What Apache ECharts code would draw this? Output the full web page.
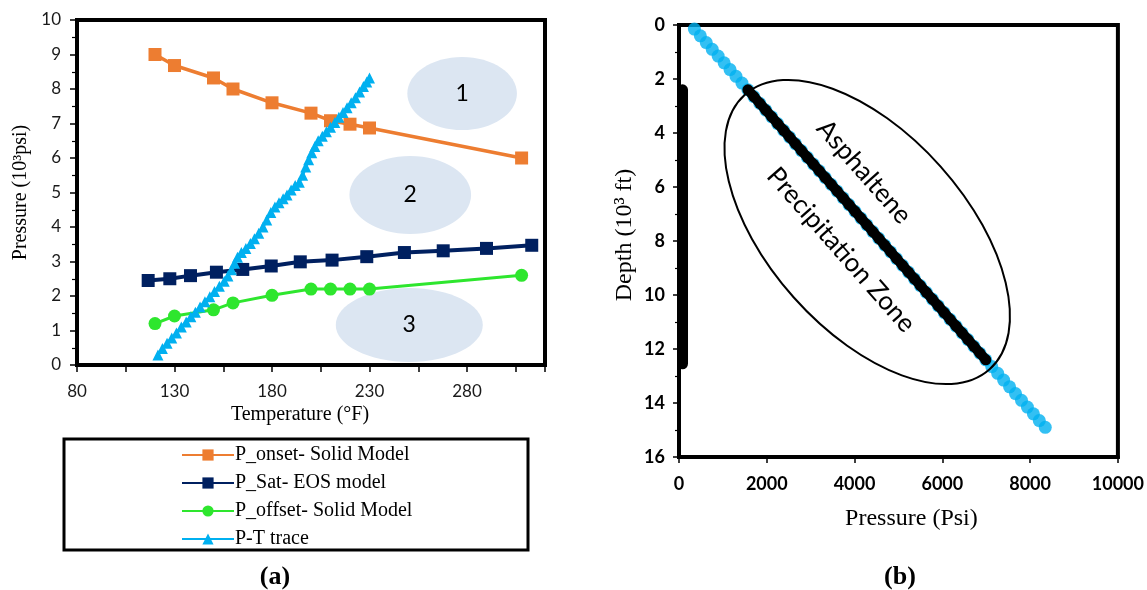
<!DOCTYPE html>
<html>
<head>
<meta charset="utf-8">
<script src="https://cdn.jsdelivr.net/npm/echarts@6/dist/echarts.min.js"></script>
<style>
  html, body { margin: 0; padding: 0; background: #fff; }
  #main { width: 1147px; height: 590px; }
</style>
</head>
<body>
<div id="main"></div>
<script>
// ---- (a) Pressure vs temperature envelope (pressure in 10^3 psi, temperature in °F) ----
const onsetT = [120, 130, 150, 160, 180, 200, 210, 220, 230, 308];
const onsetP = [9.0, 8.68, 8.32, 8.0, 7.6, 7.3, 7.08, 6.98, 6.87, 6.0];

const satT = [116.5, 127.6, 138.2, 151.5, 165, 179.6, 194.5, 210.8, 228.6, 247.9, 267.8, 290, 313.2];
const satP = [2.45, 2.5, 2.59, 2.69, 2.77, 2.87, 2.99, 3.04, 3.14, 3.26, 3.31, 3.38, 3.47];

const offsetT = [120, 130, 150, 160, 180, 200, 210, 220, 230, 308];
const offsetP = [1.2, 1.42, 1.6, 1.8, 2.02, 2.2, 2.2, 2.2, 2.2, 2.6];

const traceT = [121.5, 123.8, 126.2, 128.6, 131.0, 133.5, 136.0, 138.4, 140.7, 143.1,
  145.6, 148.1, 150.5, 153.0, 155.5, 157.4, 159.2, 160.8, 162.3, 164.3,
  166.6, 168.9, 171.0, 173.2, 175.4, 177.3, 179.4, 181.5, 183.6, 185.7,
  187.7, 189.8, 191.9, 194.0, 195.7, 197.3, 198.8, 200.4, 202.0, 203.7,
  205.8, 207.9, 210.0, 212.2, 214.3, 216.4, 218.5, 220.6, 222.8, 224.9,
  226.9, 228.6, 230.0];
const traceP = [0.29, 0.48, 0.63, 0.78, 0.93, 1.10, 1.25, 1.40, 1.53, 1.68,
  1.83, 1.98, 2.13, 2.28, 2.43, 2.58, 2.76, 2.95, 3.12, 3.26,
  3.38, 3.52, 3.66, 3.82, 4.00, 4.20, 4.42, 4.58, 4.70, 4.82,
  4.93, 5.07, 5.20, 5.30, 5.50, 5.74, 5.95, 6.15, 6.33, 6.50,
  6.63, 6.76, 6.89, 7.03, 7.18, 7.32, 7.46, 7.60, 7.75, 7.91,
  8.07, 8.20, 8.32];

const tempTickLabels = [80, 130, 180, 230, 280];
const regionNames = ['1', '2', '3'];
const seriesNames = ['P_onset- Solid Model', 'P_Sat- EOS model', 'P_offset- Solid Model', 'P-T trace'];

// ---- (b) Pressure vs depth profile (depth in 10^3 ft, pressure in psi) ----
const profileDepth = [0.15, 0.40, 0.65, 0.90, 1.15, 1.40, 1.65, 1.90, 2.15, 2.40,
  2.65, 2.90, 3.15, 3.40, 3.65, 3.90, 4.15, 4.40, 4.65, 4.90,
  5.15, 5.40, 5.65, 5.90, 6.15, 6.40, 6.65, 6.90, 7.15, 7.40,
  7.65, 7.90, 8.15, 8.40, 8.65, 8.90, 9.15, 9.40, 9.65, 9.90,
  10.15, 10.40, 10.65, 10.90, 11.15, 11.40, 11.65, 11.90, 12.15, 12.40,
  12.65, 12.90, 13.15, 13.40, 13.65, 13.90, 14.15, 14.40, 14.65, 14.90];
const profilePressure = [350, 486, 621, 757, 892, 1028, 1163, 1299, 1434, 1570,
  1705, 1841, 1976, 2112, 2247, 2383, 2518, 2654, 2789, 2925,
  3060, 3196, 3331, 3467, 3602, 3738, 3873, 4009, 4144, 4280,
  4415, 4551, 4686, 4822, 4957, 5093, 5228, 5364, 5499, 5635,
  5770, 5906, 6041, 6177, 6312, 6448, 6583, 6719, 6854, 6990,
  7125, 7261, 7396, 7532, 7667, 7803, 7938, 8074, 8209, 8345];

// depth interval of the precipitation zone and the marker bar on the depth axis
const zoneDepth = [2.4, 12.5];
const zoneBarDepth = [2.4, 12.55];
const zoneBarPressure = [80, 80];

// ---- styling ----
const ORANGE = '#ED7D31', NAVY = '#002060', GREEN = '#2EE62E', SKY = '#00B0F0';
const SANS = 'Lato, "Open Sans", sans-serif';
const SERIF = '"Liberation Serif", "DejaVu Serif", serif';

const zip = (a, b) => a.map((v, i) => [v, b[i]]);

const zoneProfile = profileDepth
  .map((d, i) => [profilePressure[i], d])
  .filter(p => p[1] >= zoneDepth[0] && p[1] <= zoneDepth[1]);

const axisLineStyle = { color: '#000', width: 4 };

const option = {
  animation: false,
  backgroundColor: '#fff',
  textStyle: { fontFamily: SANS },
  grid: [
    { left: 77, top: 20, width: 468, height: 345, show: true, borderColor: '#000', borderWidth: 4 },
    { left: 679, top: 25, width: 440, height: 432, show: true, borderColor: '#000', borderWidth: 4 }
  ],
  xAxis: [
    {
      gridIndex: 0, type: 'value', min: 80, max: 320, interval: 25,
      splitLine: { show: false },
      axisLine: { onZero: false, lineStyle: axisLineStyle },
      axisTick: { length: 7, lineStyle: { color: '#000', width: 1.5 } },
      axisLabel: {
        formatter: v => (tempTickLabels.indexOf(v) >= 0 ? String(v) : ''),
        fontSize: 17, color: '#1a1a1a', margin: 18
      },
      name: 'Temperature (°F)', nameLocation: 'middle', nameGap: 37,
      nameTextStyle: { fontFamily: SERIF, fontSize: 20, color: '#000', padding: [0, 22, 0, 0] }
    },
    {
      gridIndex: 1, type: 'value', min: 0, max: 10000, interval: 2000,
      splitLine: { show: false },
      axisLine: { onZero: false, lineStyle: axisLineStyle },
      axisTick: { length: 6, lineStyle: { color: '#000', width: 1.5 } },
      axisLabel: { formatter: v => String(v), fontSize: 18, fontWeight: 'bold', color: '#000', margin: 18 },
      name: 'Pressure (Psi)', nameLocation: 'middle', nameGap: 50,
      nameTextStyle: { fontFamily: SERIF, fontSize: 24, color: '#000', padding: [0, 0, 0, 26] }
    }
  ],
  yAxis: [
    {
      gridIndex: 0, type: 'value', min: 0, max: 10, interval: 1,
      splitLine: { show: false },
      axisLine: { onZero: false, lineStyle: axisLineStyle },
      axisTick: { length: 7, lineStyle: { color: '#000', width: 1.5 } },
      minorTick: { show: true, splitNumber: 2, length: 5, lineStyle: { color: '#000', width: 1.2 } },
      minorSplitLine: { show: false },
      axisLabel: { fontSize: 17, color: '#1a1a1a', margin: 16 },
      name: 'Pressure (10³psi)', nameLocation: 'middle', nameGap: 46,
      nameTextStyle: { fontFamily: SERIF, fontSize: 20, color: '#000' }
    },
    {
      gridIndex: 1, type: 'value', min: 0, max: 16, interval: 2, inverse: true,
      splitLine: { show: false },
      axisLine: { onZero: false, lineStyle: axisLineStyle },
      axisTick: { length: 6, lineStyle: { color: '#000', width: 1.5 } },
      minorTick: { show: true, splitNumber: 2, length: 4, lineStyle: { color: '#000', width: 1.2 } },
      minorSplitLine: { show: false },
      axisLabel: { fontSize: 18, fontWeight: 'bold', color: '#000', margin: 14 },
      name: 'Depth (10³ ft)', nameLocation: 'middle', nameGap: 42,
      nameTextStyle: { fontFamily: SERIF, fontSize: 24, color: '#000', padding: [0, 0, 0, 12] }
    }
  ],
  legend: {
    data: seriesNames,
    orient: 'vertical', left: 176, top: 440,
    itemWidth: 52, itemHeight: 14, itemGap: 8,
    textStyle: { fontFamily: SERIF, fontSize: 20, color: '#000', lineHeight: 19, padding: [0, 0, 0, -4] }
  },
  series: [
    {
      name: seriesNames[0], type: 'line', xAxisIndex: 0, yAxisIndex: 0,
      data: zip(onsetT, onsetP), symbol: 'rect', symbolSize: 13,
      lineStyle: { color: ORANGE, width: 3.5 }, itemStyle: { color: ORANGE }, z: 3
    },
    {
      name: seriesNames[1], type: 'line', xAxisIndex: 0, yAxisIndex: 0,
      data: zip(satT, satP), symbol: 'rect', symbolSize: 13,
      lineStyle: { color: NAVY, width: 4 }, itemStyle: { color: NAVY }, z: 3
    },
    {
      name: seriesNames[2], type: 'line', xAxisIndex: 0, yAxisIndex: 0,
      data: zip(offsetT, offsetP), symbol: 'circle', symbolSize: 13,
      lineStyle: { color: GREEN, width: 3 }, itemStyle: { color: GREEN }, z: 3
    },
    {
      name: seriesNames[3], type: 'line', xAxisIndex: 0, yAxisIndex: 0,
      data: zip(traceT, traceP), symbol: 'triangle', symbolSize: 11,
      lineStyle: { color: SKY, width: 3 }, itemStyle: { color: SKY }, z: 4
    },
    {
      name: 'profile', type: 'scatter', xAxisIndex: 1, yAxisIndex: 1,
      data: zip(profilePressure, profileDepth), symbol: 'circle', symbolSize: 13,
      itemStyle: { color: SKY }, z: 3
    },
    {
      name: 'zone', type: 'line', xAxisIndex: 1, yAxisIndex: 1,
      data: zoneProfile, symbol: 'circle', symbolSize: 11, showAllSymbol: true,
      lineStyle: { color: '#000', width: 10 }, itemStyle: { color: '#000' }, z: 4
    },
    {
      name: 'zone bar', type: 'line', xAxisIndex: 1, yAxisIndex: 1,
      data: zip(zoneBarPressure, zoneBarDepth), symbol: 'none',
      lineStyle: { color: '#000', width: 11, cap: 'round' }, z: 4
    }
  ]
};

const chart = echarts.init(document.getElementById('main'), null, { renderer: 'canvas' });
chart.setOption(option);

// ---- annotations placed in data coordinates ----
// shaded regions in (a): centre [T, P] and half-extent [dT, dP]
const regionLayout = [
  { c: [277.5, 7.87], r: [28.1, 1.06] },
  { c: [250.9, 4.93], r: [31.2, 1.13] },
  { c: [250.4, 1.16], r: [37.7, 1.07] }
];
// precipitation-zone outline in (b): major-axis ends [P, depth] and minor/major ratio
const zoneOutline = { a: [1500, 2.585], b: [7077, 12.75], ratio: 0.535 };
const zoneText = [
  { text: 'Asphaltene', at: [4216, 5.44] },
  { text: 'Precipitation Zone', at: [3693, 8.33] }
];

function px(gridIndex, v) { return chart.convertToPixel({ gridIndex: gridIndex }, v); }

const g = [];
regionLayout.forEach((reg, i) => {
  const c = px(0, reg.c);
  const e = px(0, [reg.c[0] + reg.r[0], reg.c[1] + reg.r[1]]);
  g.push({
    type: 'ellipse', silent: true, z: 1,
    shape: { cx: c[0], cy: c[1], rx: Math.abs(e[0] - c[0]), ry: Math.abs(e[1] - c[1]) },
    style: { fill: '#DCE6F2' }
  });
  g.push({
    type: 'text', silent: true, z: 2, x: c[0], y: c[1],
    style: { text: regionNames[i], font: '23px ' + SANS, fill: '#000',
             align: 'center', verticalAlign: 'middle', textAlign: 'center', textVerticalAlign: 'middle' }
  });
});

const pa = px(1, zoneOutline.a), pb = px(1, zoneOutline.b);
const ang = Math.atan2(pb[1] - pa[1], pb[0] - pa[0]);
const half = Math.hypot(pb[0] - pa[0], pb[1] - pa[1]) / 2;
g.push({
  type: 'ellipse', silent: true, z: 5,
  x: (pa[0] + pb[0]) / 2, y: (pa[1] + pb[1]) / 2, rotation: -ang,
  shape: { cx: 0, cy: 0, rx: half, ry: half * zoneOutline.ratio },
  style: { fill: 'none', stroke: '#000', lineWidth: 2 }
});

const t0 = px(1, [profilePressure[0], profileDepth[0]]);
const t1 = px(1, [profilePressure[profilePressure.length - 1], profileDepth[profileDepth.length - 1]]);
const textAng = Math.atan2(t1[1] - t0[1], t1[0] - t0[0]);
zoneText.forEach(t => {
  const p = px(1, t.at);
  g.push({
    type: 'text', silent: true, z: 6, x: p[0], y: p[1], rotation: -textAng,
    style: { text: t.text, font: '26px ' + SANS, fill: '#000',
             align: 'center', verticalAlign: 'middle', textAlign: 'center', textVerticalAlign: 'middle' }
  });
});

// legend frame and panel captions
g.push({
  type: 'rect', silent: true, z: 1,
  shape: { x: 64, y: 439, width: 464, height: 111 },
  style: { fill: 'none', stroke: '#000', lineWidth: 3 }
});
[['(a)', 275], ['(b)', 900]].forEach(([txt, x]) => {
  g.push({
    type: 'text', silent: true, x: x, y: 577,
    style: { text: txt, font: 'bold 26px ' + SERIF, fill: '#000',
             align: 'center', verticalAlign: 'middle', textAlign: 'center', textVerticalAlign: 'middle' }
  });
});

chart.setOption({ graphic: { elements: g } });
</script>
</body>
</html>
